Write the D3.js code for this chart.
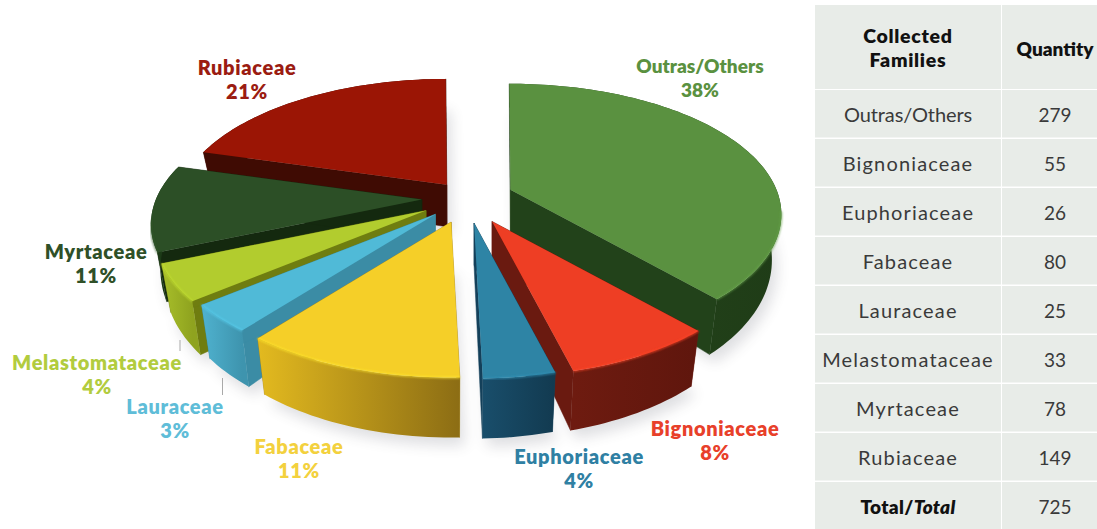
<!DOCTYPE html>
<html><head><meta charset="utf-8">
<script src="https://cdn.jsdelivr.net/npm/d3@7"></script>
<style>
html,body{margin:0;padding:0;background:#fff;overflow:hidden}
text{font-family:Lato,"Open Sans",sans-serif}
</style></head><body>
<svg id="chart" width="1097" height="529"></svg>
<script>
// Plant families collected, in clockwise order from twelve o'clock
const families = ["Outras/Others","Bignoniaceae","Euphoriaceae","Fabaceae","Lauraceae","Melastomataceae","Myrtaceae","Rubiaceae"];
const quantities = [279,55,26,80,25,33,78,149];
const percentLabels = ["38%","8%","4%","11%","3%","4%","11%","21%"];
const totalQuantity = 725;

// Slice appearance
const topColors = ["#5a9140","#ee3e24","#2e84a5","#f5cf28","#50bad7","#b2cc2e","#2c4f26","#9b1505"];
const radialColors = ["#22421a","#6a1a10","#14405a","#a8871a","#3b8ca5","#6f7d10","#14290f","#3f0b03"];
const wallLeft = ["#26481c","#6e1b10","#194e6b","#e3ba1f","#4fb2cf","#a8bf2a","#1d3d18","#3f0b03"];
const wallRight = ["#1f3c17","#5f160d","#123a50","#8c6d14","#3e94ae","#8fa31f","#1b3616","#3f0b03"];
const labelColors = ["#5a9140","#e8402a","#2f80a3","#f3d13e","#5fbdd8","#b2cc3e","#2f5028","#9b1c12"];

// How far each slice is pulled out of the pie, as a share of the radius
const explode = [0.175,0.20,0.19,0.19,0.17,0.18,0.17,0.125];
// Back-to-front painting order
const paintOrder = [7,0,6,5,4,1,2,3];

const hub = {x:467, y:198};
const R = 266, Rk = 126, perspective = 0.19;
const explodeTilt = 0.5;

const svg = d3.select("#chart");
const defs = svg.append("defs");
defs.append("filter").attr("id","soft").attr("x","-20%").attr("y","-20%").attr("width","140%").attr("height","140%")
  .append("feGaussianBlur").attr("stdDeviation",7);
defs.append("filter").attr("id","glint").attr("x","-10%").attr("y","-10%").attr("width","120%").attr("height","120%")
  .append("feGaussianBlur").attr("stdDeviation",0.8);

const pie = d3.pie().sort(null).startAngle(-0.005).endAngle(2*Math.PI-0.005);
const arcs = pie(quantities);
const line = d3.line();

// Screen position of a point on the pie: a = clockwise angle, r = share of radius, z = 0 top, 1 base
function project(apex, a, r, z){
  const X = Math.sin(a)*r, Y = -Math.cos(a)*r;
  const p = 1/(1 - Y*perspective);
  return [apex.x + R*X*p*(1 - 0.035*z), apex.y + Rk*Y*p + z*(42 + 18*Y)];
}
function rim(apex, a0, a1, z){
  const n = Math.max(2, Math.ceil((a1-a0)*40));
  return d3.range(n+1).map(i => project(apex, a0+(a1-a0)*i/n, 1, z));
}

const slices = arcs.map((d,i) => {
  const mid = (d.startAngle+d.endAngle)/2, e = explode[i]*R;
  return {i, a0:d.startAngle, a1:d.endAngle,
    apex:{x:hub.x + e*Math.sin(mid), y:hub.y - e*explodeTilt*Math.cos(mid)}};
});

// Ground shadow under the whole pie
const shadowLayer = svg.append("g").attr("filter","url(#soft)").attr("opacity",0.16);
slices.forEach(s => {
  const base = rim(s.apex, s.a0, s.a1, 1).map(([x,y]) => [x+5,y+8]);
  shadowLayer.append("path").attr("d", line([[s.apex.x+5,s.apex.y+50],...base])+"Z").attr("fill","#33384a");
});

// Thin leader lines of the two smallest labels
[[180,340,351],[222.5,378,395]].forEach(([x,y0,y1]) => {
  svg.append("line").attr("x1",x).attr("x2",x).attr("y1",y0).attr("y2",y1)
    .attr("stroke","#a9a9a9").attr("stroke-width",1);
});

paintOrder.forEach(i => {
  const s = slices[i], g = svg.append("g");
  const topRim = rim(s.apex, s.a0, s.a1, 0), baseRim = rim(s.apex, s.a0, s.a1, 1);
  const apexBase = [s.apex.x, s.apex.y + 42];
  const apexTop = [s.apex.x, s.apex.y];

  // radial walls
  [[topRim[0],baseRim[0]],[topRim[topRim.length-1],baseRim[baseRim.length-1]]].forEach(([t,b]) => {
    g.append("path").attr("d", line([apexTop,t,b,apexBase])+"Z")
      .attr("fill",radialColors[i]).attr("stroke",radialColors[i]).attr("stroke-width",0.5);
  });

  // curved outer wall with a horizontal shading gradient
  const xs = topRim.map(p => p[0]);
  const gid = "wall"+i;
  const grad = defs.append("linearGradient").attr("id",gid).attr("gradientUnits","userSpaceOnUse")
    .attr("x1",d3.min(xs)).attr("x2",d3.max(xs)).attr("y1",0).attr("y2",0);
  grad.append("stop").attr("offset",0).attr("stop-color",wallLeft[i]);
  grad.append("stop").attr("offset",1).attr("stop-color",wallRight[i]);
  g.append("path").attr("d", line([...topRim,...baseRim.slice().reverse()])+"Z").attr("fill",`url(#${gid})`);

  // top face
  g.append("path").attr("d", line([apexTop,...topRim])+"Z").attr("fill",topColors[i]);

  // soft highlight along the near part of the rim
  const nearRim = topRim.filter(p => p[1] > s.apex.y + 20);
  if(nearRim.length > 1){
    g.append("path").attr("d", line(nearRim)).attr("fill","none")
      .attr("stroke",d3.color(topColors[i]).brighter(0.3)).attr("stroke-width",1.4).attr("filter","url(#glint)");
  }
});

// The slashed name sets tighter than the single words
const isSlashed = name => name.includes("/");

// Slice labels: name above percentage
const labelSpots = [[700,66],[715,429],[579,457],[299,447],[175,407],[97,363],[96,252],[247,68]];
families.forEach((name,i) => {
  const [x,y] = labelSpots[i];
  const t = svg.append("text").attr("text-anchor","middle").attr("fill",labelColors[i])
    .attr("font-size",isSlashed(name)?19:20).attr("font-weight",800).attr("letter-spacing",isSlashed(name)?0:0.65);
  t.append("tspan").attr("x",x).attr("y",y+7).text(name);
  t.append("tspan").attr("x",x).attr("y",y+31).text(percentLabels[i]);
});

// Summary table
const tableRows = [...families,"Total/Total"];
const tableValues = [...quantities,totalQuantity];
const colX = d3.scaleOrdinal().domain(["family","qty"]).range([815,1002]);
const colW = {family:186, qty:95};
const rowY = d3.scaleBand().domain(tableRows).range([90,531]);
const table = svg.append("g");

function cell(col,y,h){
  table.append("rect").attr("x",colX(col)).attr("y",y).attr("width",colW[col]).attr("height",h).attr("fill","#e8ece8");
}
cell("family",5,84); cell("qty",5,84);
tableRows.forEach(r => { cell("family",rowY(r),rowY.bandwidth()-1.5); cell("qty",rowY(r),rowY.bandwidth()-1.5); });

const familyMid = 908, qtyMid = 1055;
const head = table.append("text").attr("text-anchor","middle").attr("font-size",19.5).attr("font-weight",800)
  .attr("letter-spacing",0.7).attr("fill","#111");
head.append("tspan").attr("x",familyMid).attr("y",43).text("Collected");
head.append("tspan").attr("x",familyMid).attr("y",67).text("Families");
table.append("text").attr("text-anchor","middle").attr("x",qtyMid).attr("y",56)
  .attr("font-size",19).attr("font-weight",800).attr("fill","#111").text("Quantity");

tableRows.forEach((r,i) => {
  const y = rowY(r)+rowY.bandwidth()/2+7;
  const last = i === tableRows.length-1;
  const t = table.append("text").attr("text-anchor","middle").attr("x",familyMid).attr("y",y)
    .attr("font-size",20).attr("letter-spacing",last?0.3:(isSlashed(r)?-0.1:1.15)).attr("fill",last?"#111":"#3a3a3a");
  if(last){
    t.attr("font-weight",800).attr("font-size",19);
    t.append("tspan").text("Total/");
    t.append("tspan").attr("font-style","italic").text("Total");
  } else t.text(r);
  table.append("text").attr("text-anchor","middle").attr("x",qtyMid).attr("y",y)
    .attr("font-size",19).attr("fill","#3a3a3a").text(tableValues[i]);
});
</script>
</body></html>
